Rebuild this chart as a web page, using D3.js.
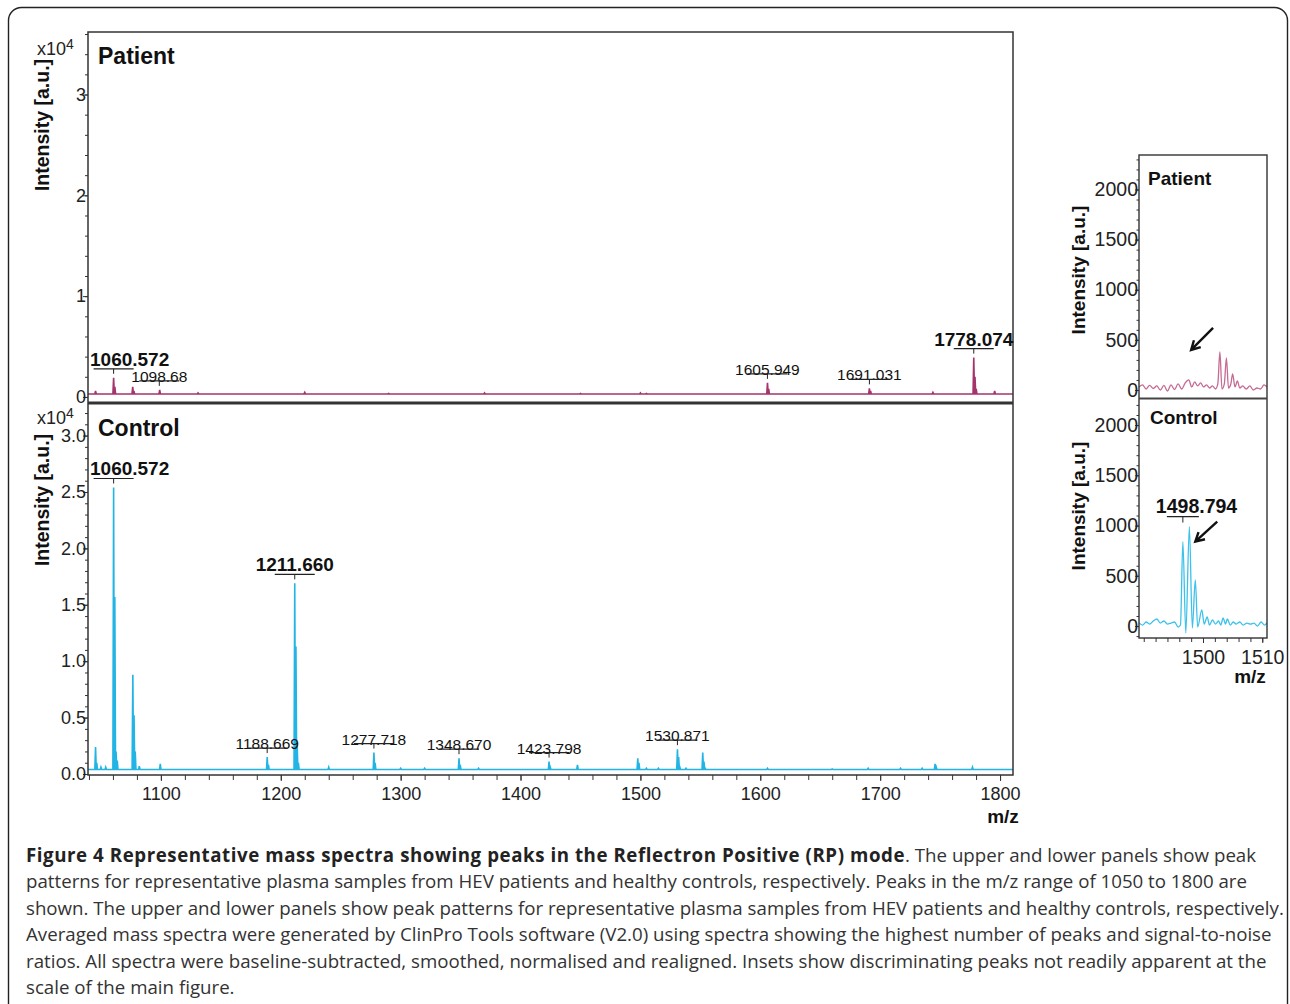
<!DOCTYPE html>
<html>
<head>
<meta charset="utf-8">
<script src="https://cdn.jsdelivr.net/npm/d3@7"></script>
<style>
body { margin: 0; background: #fff; }
svg { display: block; font-family: "Liberation Sans", Arial, sans-serif; }
.tick text { font-size: 18px; fill: #222; }
.inset .tick text { font-size: 19.5px; }
.tick line { stroke: #333; }
.ttl { font-weight: bold; fill: #111; }
.cap { font-family: "Open Sans", sans-serif; fill: #333; }
</style>
</head>
<body>
<svg id="fig" width="1290" height="1004"></svg>
<script>
// ---- main spectra: [m/z, intensity x10^4] ----
var patientBase = 0.03;
var patientPeaks = [
	[1045.5, 0.06], [1060.57, 0.19], [1061.6, 0.10], [1076.5, 0.10], [1077.5, 0.06],
	[1099.0, 0.07], [1131, 0.04], [1220, 0.045], [1290, 0.035], [1370, 0.04],
	[1450, 0.035], [1500, 0.04], [1505, 0.035], [1606.0, 0.14], [1607.0, 0.08],
	[1691.0, 0.085], [1692.0, 0.06], [1744, 0.045], [1778.07, 0.39], [1779.1, 0.20],
	[1780.1, 0.08], [1795.5, 0.06]
];
var controlBase = 0.04;
var controlPeaks = [
	[1045.5, 0.24], [1046.5, 0.10], [1050, 0.06], [1054, 0.06], [1060.57, 2.54],
	[1061.57, 1.57], [1062.6, 0.20], [1063.6, 0.12], [1076.6, 0.88], [1077.6, 0.52],
	[1078.6, 0.20], [1082, 0.07], [1099.5, 0.09], [1188.7, 0.15], [1189.7, 0.08],
	[1211.66, 1.69], [1212.66, 1.13], [1213.7, 0.25], [1214.7, 0.10], [1240, 0.06],
	[1277.7, 0.19], [1278.7, 0.10], [1300, 0.05], [1320, 0.05], [1348.7, 0.14],
	[1349.7, 0.08], [1365, 0.05], [1423.8, 0.11], [1424.8, 0.06], [1447.5, 0.08],
	[1497.8, 0.14], [1498.8, 0.10], [1505, 0.05], [1515, 0.05], [1530.9, 0.22],
	[1531.9, 0.15], [1532.9, 0.06], [1538, 0.05], [1552, 0.19], [1553, 0.11],
	[1554, 0.05], [1606, 0.05], [1660, 0.045], [1690, 0.05], [1717, 0.05],
	[1735, 0.05], [1745.8, 0.09], [1746.8, 0.06], [1777, 0.06]
];
// [m/z, text, bold]
var patientLabels = [
	[1060.572, "1060.572", true], [1098.68, "1098.68", false], [1605.949, "1605.949", false],
	[1691.031, "1691.031", false], [1778.074, "1778.074", true]
];
var controlLabels = [
	[1060.572, "1060.572", true], [1188.669, "1188.669", false], [1211.660, "1211.660", true],
	[1277.718, "1277.718", false], [1348.670, "1348.670", false], [1423.798, "1423.798", false],
	[1530.871, "1530.871", false]
];
var mzTicks = [1100, 1200, 1300, 1400, 1500, 1600, 1700, 1800];
var patientTicks = [0, 1, 2, 3];
var controlTicks = [0, 0.5, 1.0, 1.5, 2.0, 2.5, 3.0];

// ---- insets: [m/z, intensity a.u.] ----
var insetPatient = [
	[1489.2, 30], [1489.8, 50], [1490.4, 10], [1491, 45], [1491.6, 15], [1492.2, 40],
	[1492.8, 0], [1493.4, 45], [1494, -10], [1494.6, 50], [1495.2, 5], [1495.8, 60],
	[1496.4, 10], [1497, 70], [1497.6, 100], [1498.1, 30], [1498.6, 80], [1499.1, 40],
	[1499.6, 70], [1500.1, 30], [1500.6, 50], [1501.1, 20], [1501.6, 40], [1502.1, 10],
	[1502.5, 60], [1502.85, 380], [1503.2, 10], [1503.6, 60], [1503.95, 320], [1504.3, 20],
	[1504.7, 60], [1505.0, 160], [1505.4, 30], [1505.8, 90], [1506.2, 20], [1506.7, 40],
	[1507.3, 10], [1507.9, 40], [1508.5, 0], [1509.1, 20], [1509.7, 10], [1510.3, 50],
	[1510.8, 30]
];
var insetControl = [
	[1489.2, 30], [1489.8, 10], [1490.4, 40], [1491, 20], [1491.6, 50], [1492.2, 70],
	[1492.8, 30], [1493.4, 50], [1494, 20], [1494.6, 30], [1495.2, 40], [1495.8, -10],
	[1496.2, 10], [1496.6, 840], [1497.1, -70], [1497.7, 990], [1498.2, -20], [1498.7, 460],
	[1499.1, -10], [1499.8, 160], [1500.2, 20], [1500.7, 90], [1501.1, 10], [1501.6, 60],
	[1502.1, 20], [1502.6, 50], [1503, 10], [1503.4, 80], [1503.8, 20], [1504.1, 70],
	[1504.6, 10], [1505.1, 40], [1505.6, 20], [1506.2, 40], [1506.8, 10], [1507.4, 30],
	[1508, 20], [1508.6, 30], [1509.2, 0], [1509.8, 40], [1510.4, 10], [1510.8, 30]
];
var insetLabel = [1496.6, "1498.794"];
// arrows: [from m/z, from I, to m/z, to I]
var insetArrowPatient = [1501.7, 620, 1498.0, 400];
var insetArrowControl = [1502.4, 1040, 1498.7, 840];
var insetMzTicks = [1500, 1510];
var insetYTicks = [0, 500, 1000, 1500, 2000];

var captionBold = "Figure 4 Representative mass spectra showing peaks in the Reflectron Positive (RP) mode";
var captionLines = [
	". The upper and lower panels show peak",
	"patterns for representative plasma samples from HEV patients and healthy controls, respectively. Peaks in the m/z range of 1050 to 1800 are",
	"shown. The upper and lower panels show peak patterns for representative plasma samples from HEV patients and healthy controls, respectively.",
	"Averaged mass spectra were generated by ClinPro Tools software (V2.0) using spectra showing the highest number of peaks and signal-to-noise",
	"ratios. All spectra were baseline-subtracted, smoothed, normalised and realigned. Insets show discriminating peaks not readily apparent at the",
	"scale of the main figure."
];

var svg = d3.select("#fig");

// outer rounded frame
svg.append("rect")
	.attr("x", 8.5).attr("y", 7.5).attr("width", 1279).attr("height", 1030)
	.attr("rx", 13).attr("fill", "none").attr("stroke", "#222").attr("stroke-width", 1.4);

// ---- main chart ----
var x = d3.scaleLinear().domain([1039.2, 1810.8]).range([88, 1013]);
var yP = d3.scaleLinear().domain([-0.05, 3.62]).range([402, 32]);
var yC = d3.scaleLinear().domain([0, 3.28]).range([774, 404]);

function spectrum(peaks, base, lo, hi, hw) {
	var pts = [[lo, base]];
	peaks.forEach(function(p) {
		pts.push([p[0] - hw, base], [p[0], p[1]], [p[0] + hw, base]);
	});
	pts.push([hi, base]);
	return pts;
}

function peakTop(peaks, mz) {
	return d3.max(peaks.filter(function(p) { return Math.abs(p[0] - mz) < 2.5; }), function(p) { return p[1]; });
}

var defs = svg.append("defs");
defs.append("clipPath").attr("id", "clipP").append("rect").attr("x", 88).attr("y", 32).attr("width", 925).attr("height", 370);
defs.append("clipPath").attr("id", "clipC").append("rect").attr("x", 88).attr("y", 404).attr("width", 925).attr("height", 370);

svg.append("path")
	.datum(spectrum(patientPeaks, patientBase, 1039.2, 1810.8, 0.6))
	.attr("clip-path", "url(#clipP)")
	.attr("fill", "none").attr("stroke", "#a3346c").attr("stroke-width", 1.6)
	.attr("d", d3.line().x(function(d) { return x(d[0]); }).y(function(d) { return yP(d[1]); }));

svg.append("path")
	.datum(spectrum(controlPeaks, controlBase, 1039.2, 1810.8, 0.6))
	.attr("clip-path", "url(#clipC)")
	.attr("fill", "none").attr("stroke", "#22b4e4").attr("stroke-width", 1.6)
	.attr("d", d3.line().x(function(d) { return x(d[0]); }).y(function(d) { return yC(d[1]); }));

// frames
svg.append("rect").attr("x", 88).attr("y", 32).attr("width", 925).attr("height", 743)
	.attr("fill", "none").attr("stroke", "#333").attr("stroke-width", 1.5);
svg.append("line").attr("x1", 88).attr("x2", 1013).attr("y1", 403).attr("y2", 403)
	.attr("stroke", "#333").attr("stroke-width", 3);

function leftAxis(scale, major, minor, fmt, x0, tsMaj, tsMin, cls) {
	var g = svg.append("g").attr("class", cls || "").attr("transform", "translate(" + x0 + ",0)");
	g.append("g").call(d3.axisLeft(scale).tickValues(minor).tickSize(tsMin).tickFormat(""));
	g.append("g").call(d3.axisLeft(scale).tickValues(major).tickSize(tsMaj).tickPadding(-3).tickFormat(fmt));
	g.selectAll(".domain").remove();
	return g;
}

leftAxis(yP, patientTicks, d3.range(0, 3.61, 0.2), d3.format("d"), 88, 5, 3);
leftAxis(yC, controlTicks, d3.range(0, 3.25, 0.1), d3.format(".1f"), 88, 5, 3);

var xg = svg.append("g").attr("transform", "translate(0,775)");
xg.append("g").call(d3.axisBottom(x).tickValues(d3.range(1040, 1811, 20)).tickSize(5).tickFormat(""));
xg.append("g").call(d3.axisBottom(x).tickValues(mzTicks).tickSize(6).tickPadding(6).tickFormat(d3.format("d")));
xg.selectAll(".domain").remove();

svg.append("text").attr("class", "ttl").attr("x", 1003).attr("y", 823)
	.attr("text-anchor", "middle").style("font-size", "19px").text("m/z");

// y titles & multipliers
function yTitle(cx, cy, size) {
	svg.append("text").attr("class", "ttl")
		.attr("transform", "translate(" + cx + "," + cy + ") rotate(-90)")
		.attr("text-anchor", "middle").attr("dy", "0.35em")
		.style("font-size", size + "px").text("Intensity [a.u.]");
}
yTitle(42, 125, 19.5);
yTitle(42, 500, 19.5);

[55, 424].forEach(function(by) {
	var t = svg.append("text").attr("x", 37).attr("y", by).style("font-size", "18px").attr("fill", "#222");
	t.append("tspan").text("x10");
	t.append("tspan").attr("dy", -6).style("font-size", "14px").text("4");
});

svg.append("text").attr("class", "ttl").attr("x", 98).attr("y", 64).style("font-size", "23px").text("Patient");
svg.append("text").attr("class", "ttl").attr("x", 98).attr("y", 436).style("font-size", "23px").text("Control");

// peak labels
function peakLabels(labels, peaks, y) {
	labels.forEach(function(l) {
		var px = x(l[0]);
		var bar = y(peakTop(peaks, l[0])) - 9;
		var size = l[2] ? 19 : 15.5;
		var t = svg.append("text").attr("x", px).attr("y", l[2] ? bar - 3 : bar + 1)
			.attr("text-anchor", "middle").attr("fill", "#111")
			.style("font-size", size + "px").style("font-weight", l[2] ? "bold" : "normal")
			.text(l[1]);
		var w = t.node().getComputedTextLength();
		if (px - w / 2 < 90) t.attr("x", 90 + w / 2);
		svg.append("line").attr("x1", px - 20).attr("x2", px + 20).attr("y1", bar).attr("y2", bar)
			.attr("stroke", "#222").attr("stroke-width", 1.2);
		svg.append("line").attr("x1", px).attr("x2", px).attr("y1", bar).attr("y2", bar + 5)
			.attr("stroke", "#222").attr("stroke-width", 1);
	});
}
peakLabels(patientLabels, patientPeaks, yP);
peakLabels(controlLabels, controlPeaks, yC);

// ---- insets ----
var xi = d3.scaleLinear().domain([1489.2, 1510.8]).range([1139, 1267]);
var yiP = d3.scaleLinear().domain([-80, 2344]).range([398, 155]);
var yiC = d3.scaleLinear().domain([-119, 2269]).range([638, 398]);

defs.append("clipPath").attr("id", "clipIP").append("rect").attr("x", 1139).attr("y", 155).attr("width", 128).attr("height", 243);
defs.append("clipPath").attr("id", "clipIC").append("rect").attr("x", 1139).attr("y", 398).attr("width", 128).attr("height", 240);

svg.append("path").datum(insetPatient).attr("clip-path", "url(#clipIP)")
	.attr("fill", "none").attr("stroke", "#c66a93").attr("stroke-width", 1.3)
	.attr("d", d3.line().curve(d3.curveMonotoneX).x(function(d) { return xi(d[0]); }).y(function(d) { return yiP(d[1]); }));
svg.append("path").datum(insetControl).attr("clip-path", "url(#clipIC)")
	.attr("fill", "none").attr("stroke", "#3cc2ea").attr("stroke-width", 1.3)
	.attr("d", d3.line().curve(d3.curveMonotoneX).x(function(d) { return xi(d[0]); }).y(function(d) { return yiC(d[1]); }));

svg.append("rect").attr("x", 1139).attr("y", 155).attr("width", 128).attr("height", 483)
	.attr("fill", "none").attr("stroke", "#333").attr("stroke-width", 1.4);
svg.append("line").attr("x1", 1139).attr("x2", 1267).attr("y1", 398.5).attr("y2", 398.5)
	.attr("stroke", "#444").attr("stroke-width", 2);

leftAxis(yiP, insetYTicks, d3.range(0, 2301, 100), d3.format("d"), 1139, 4, 2.5, "inset");
leftAxis(yiC, insetYTicks, d3.range(-100, 2201, 100), d3.format("d"), 1139, 4, 2.5, "inset");

var xig = svg.append("g").attr("class", "inset").attr("transform", "translate(0,638)");
xig.append("g").call(d3.axisBottom(xi).tickValues(d3.range(1490, 1511, 2)).tickSize(4).tickFormat(""));
xig.append("g").call(d3.axisBottom(xi).tickValues(insetMzTicks).tickSize(5).tickPadding(7).tickFormat(d3.format("d")));
xig.selectAll(".domain").remove();

svg.append("text").attr("class", "ttl").attr("x", 1250).attr("y", 683)
	.attr("text-anchor", "middle").style("font-size", "19px").text("m/z");

yTitle(1078, 270, 19);
yTitle(1078, 506, 19);

svg.append("text").attr("class", "ttl").attr("x", 1148).attr("y", 185).style("font-size", "19px").text("Patient");
svg.append("text").attr("class", "ttl").attr("x", 1150).attr("y", 424).style("font-size", "19px").text("Control");

// inset peak label
(function() {
	var px = xi(insetLabel[0]);
	var bar = yiC(d3.max(insetControl, function(d) { return d[1]; })) - 10;
	svg.append("text").attr("class", "ttl").attr("x", px - 27).attr("y", bar - 4)
		.style("font-size", "19.5px").text(insetLabel[1]);
	svg.append("line").attr("x1", px - 16).attr("x2", px + 16).attr("y1", bar).attr("y2", bar)
		.attr("stroke", "#222").attr("stroke-width", 1.2);
	svg.append("line").attr("x1", px).attr("x2", px).attr("y1", bar).attr("y2", bar + 6)
		.attr("stroke", "#222").attr("stroke-width", 1);
})();

function arrow(a, y) {
	var x1 = xi(a[0]), y1 = y(a[1]), x2 = xi(a[2]), y2 = y(a[3]);
	var ang = Math.atan2(y2 - y1, x2 - x1), L = 10, s = 0.5;
	svg.append("path")
		.attr("d", "M" + x1 + "," + y1 + "L" + x2 + "," + y2 +
			"M" + (x2 - L * Math.cos(ang - s)) + "," + (y2 - L * Math.sin(ang - s)) +
			"L" + x2 + "," + y2 +
			"L" + (x2 - L * Math.cos(ang + s)) + "," + (y2 - L * Math.sin(ang + s)))
		.attr("fill", "none").attr("stroke", "#111").attr("stroke-width", 2.4)
		.attr("stroke-linejoin", "miter");
}
arrow(insetArrowPatient, yiP);
arrow(insetArrowControl, yiC);

// ---- caption ----
var cap = svg.append("g").attr("class", "cap");
var boldSpan;
var capLines = captionLines.map(function(s, i) {
	var t = cap.append("text").attr("x", 26).attr("y", 862 + i * 26.4);
	if (i === 0) boldSpan = t.append("tspan").style("font-weight", "bold").attr("fill", "#222").text(captionBold);
	t.append("tspan").text(s);
	return t;
});
// fit the font size so the 4th line spans as in the figure
var fs = 17;
capLines.forEach(function(t) { t.style("font-size", fs + "px"); });
var w4 = capLines[3].node().getComputedTextLength();
fs = fs * 1247 / w4;
capLines.forEach(function(t) { t.style("font-size", fs + "px"); });
// the bold lead-in is wider in the figure
var wb = boldSpan.node().getComputedTextLength();
boldSpan.style("letter-spacing", ((879 - wb) / captionBold.length) + "px");
</script>
</body>
</html>
